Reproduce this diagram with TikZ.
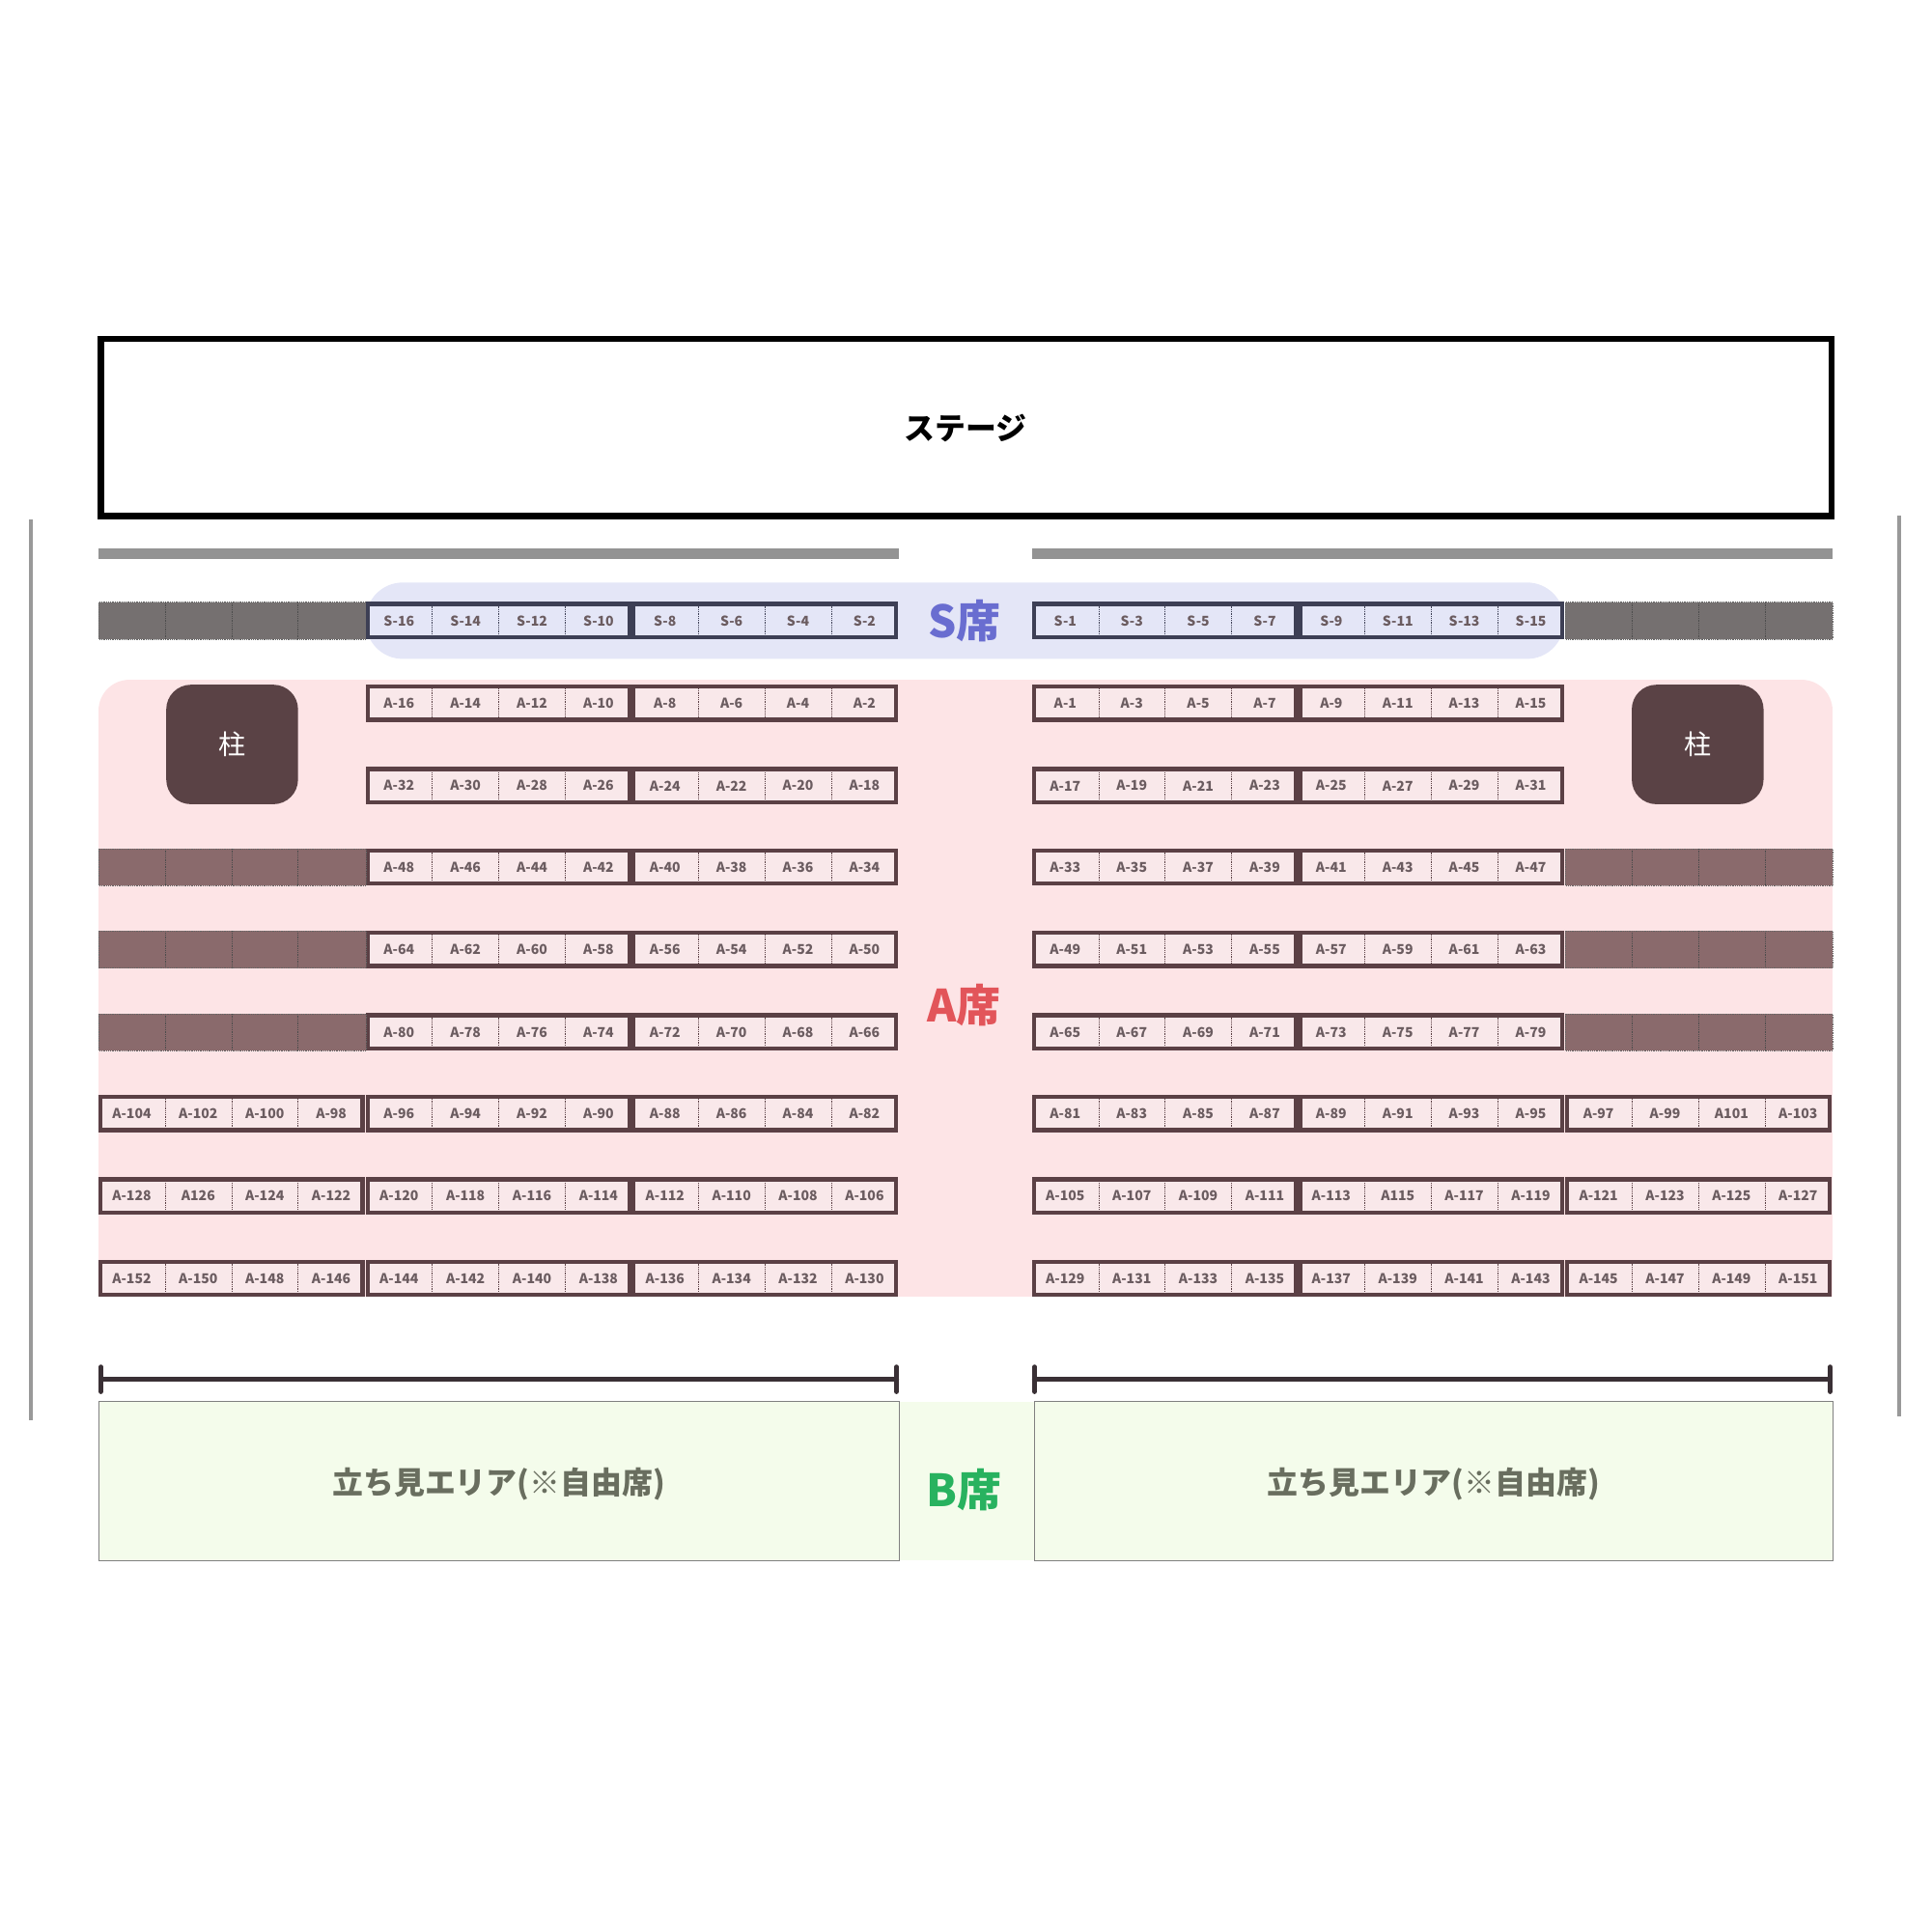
\documentclass[tikz,border=0pt]{standalone}
\usepackage{fontspec}
\setmainfont{Noto Sans CJK JP}
\begin{document}
\begin{tikzpicture}[x=1pt,y=-1pt]
\definecolor{sbrd}{HTML}{3D3F55}\definecolor{sfill}{HTML}{E4E6F7}
\definecolor{abrd}{HTML}{5B4045}\definecolor{afill}{HTML}{F9E8EA}
\definecolor{sgray}{HTML}{757070}\definecolor{agray}{HTML}{8A6A6C}
\definecolor{pinkbg}{HTML}{FDE4E6}\definecolor{greenbg}{HTML}{F4FCEB}
\definecolor{pillar}{HTML}{5A4245}\definecolor{lbl}{HTML}{5A4A4E}
\definecolor{brk}{HTML}{3A3035}
\tikzset{seatlbl/.style={font=\fontsize{11}{12}\selectfont\bfseries, text=lbl!90},
  big/.style={font=\fontsize{36}{40}\selectfont\bfseries}}
\useasboundingbox (0,0) rectangle (1568,1568);
% stage
\draw[line width=5] (82,275) rectangle (1487,419);
\node[font=\fontsize{25}{28}\selectfont\bfseries] (stage) at (784,348) {ステージ};
% side lines
\draw[gray!80,line width=3] (25,422) -- (25,1153);
\draw[gray!80,line width=3] (1542,419) -- (1542,1150);
\fill[gray!85] (80,445) rectangle (730,454);
\fill[gray!85] (838,445) rectangle (1488,454);
% backgrounds
\fill[sfill,rounded corners=30] (297,473) rectangle (1270,535);
\fill[pinkbg,rounded corners=25] (80,552) rectangle (1488,1080);
\fill[pinkbg] (80,1000) rectangle (1488,1053);
\fill[white] (80,1053) rectangle (1488,1090);
\fill[greenbg] (80,1138) rectangle (1488,1267);
\draw[gray] (80,1138) rectangle (730,1267);
\draw[gray] (840,1138) rectangle (1488,1267);
% labels
\node[big,text={rgb,255:red,105;green,109;blue,208}] (slab) at (783,504) {S席};
\node[big,text={rgb,255:red,226;green,85;blue,90}] (alab) at (783,816) {A席};
\node[big,text={rgb,255:red,40;green,178;blue,95}] (blab) at (783,1210) {B席};
\node[font=\fontsize{25}{28}\selectfont\bfseries,text={rgb,255:red,105;green,110;blue,95}] (f1) at (405,1205) {立ち見エリア(※自由席)};
\node[font=\fontsize{25}{28}\selectfont\bfseries,text={rgb,255:red,105;green,110;blue,95}] (f2) at (1164,1205) {立ち見エリア(※自由席)};
% brackets
\draw[line width=4,brk,line cap=round] (82,1120) -- (728,1120) (82,1110) -- (82,1130) (728,1110) -- (728,1130);
\draw[line width=4,brk,line cap=round] (840,1120) -- (1486,1120) (840,1110) -- (840,1130) (1486,1110) -- (1486,1130);
% pillars
\node[fill=pillar,rounded corners=20,minimum width=107,minimum height=97,text=white,font=\fontsize{22}{24}\selectfont] (p1) at (188.5,604.5) {柱};
\node[fill=pillar,rounded corners=20,minimum width=107,minimum height=97,text=white,font=\fontsize{22}{24}\selectfont] (p2) at (1378.5,604.5) {柱};
% seat block macro
\newcommand\blk[5]{% x, y, border, fill, labels
  \fill[#4] (#1,#2-15) rectangle ++(216,30);
  \foreach \l [count=\i] in {#5} {
    \node[seatlbl] at (#1+54*\i-27,#2) {\l};
    \ifnum\i<4 \draw[densely dotted,#3] (#1+54*\i,#2-12) -- ++(0,24);\fi
  }
  \draw[#3,line width=3.5] (#1+1.5,#2-13.5) rectangle ++(213,27);
}
\newcommand\gry[3]{% x, y, colour
  \fill[#3] (#1,#2-15) rectangle ++(217,30);
  \foreach \i in {1,2,3} \draw[densely dotted,black!70] (#1+54*\i,#2-15) -- ++(0,30);
  \draw[densely dotted,black!60] (#1,#2-15) rectangle ++(217,30);
}
% S row
\gry{80}{504}{sgray}\gry{1271}{504}{sgray}
\blk{297}{504}{sbrd}{sfill}{S-16,S-14,S-12,S-10}
\blk{513}{504}{sbrd}{sfill}{S-8,S-6,S-4,S-2}
\blk{838}{504}{sbrd}{sfill}{S-1,S-3,S-5,S-7}
\blk{1054}{504}{sbrd}{sfill}{S-9,S-11,S-13,S-15}
% A rows 1-5
\foreach \k/\y in {1/571,2/638,3/704,4/771,5/838}{
  \pgfmathtruncatemacro\a{16*\k}\pgfmathtruncatemacro\b{16*\k-2}\pgfmathtruncatemacro\c{16*\k-4}\pgfmathtruncatemacro\d{16*\k-6}
  \pgfmathtruncatemacro\e{16*\k-8}\pgfmathtruncatemacro\f{16*\k-10}\pgfmathtruncatemacro\g{16*\k-12}\pgfmathtruncatemacro\h{16*\k-14}
  \blk{297}{\y}{abrd}{afill}{A-\a,A-\b,A-\c,A-\d}
  \blk{513}{\y}{abrd}{afill}{A-\e,A-\f,A-\g,A-\h}
  \pgfmathtruncatemacro\a{16*\k-15}\pgfmathtruncatemacro\b{16*\k-13}\pgfmathtruncatemacro\c{16*\k-11}\pgfmathtruncatemacro\d{16*\k-9}
  \pgfmathtruncatemacro\e{16*\k-7}\pgfmathtruncatemacro\f{16*\k-5}\pgfmathtruncatemacro\g{16*\k-3}\pgfmathtruncatemacro\h{16*\k-1}
  \blk{838}{\y}{abrd}{afill}{A-\a,A-\b,A-\c,A-\d}
  \blk{1054}{\y}{abrd}{afill}{A-\e,A-\f,A-\g,A-\h}
}
\foreach \y in {704,771,838}{\gry{80}{\y}{agray}\gry{1271}{\y}{agray}}
% row 6
\blk{80}{904}{abrd}{afill}{A-104,A-102,A-100,A-98}
\blk{297}{904}{abrd}{afill}{A-96,A-94,A-92,A-90}
\blk{513}{904}{abrd}{afill}{A-88,A-86,A-84,A-82}
\blk{838}{904}{abrd}{afill}{A-81,A-83,A-85,A-87}
\blk{1054}{904}{abrd}{afill}{A-89,A-91,A-93,A-95}
\blk{1271}{904}{abrd}{afill}{A-97,A-99,A101,A-103}
% row 7
\blk{80}{971}{abrd}{afill}{A-128,A126,A-124,A-122}
\blk{297}{971}{abrd}{afill}{A-120,A-118,A-116,A-114}
\blk{513}{971}{abrd}{afill}{A-112,A-110,A-108,A-106}
\blk{838}{971}{abrd}{afill}{A-105,A-107,A-109,A-111}
\blk{1054}{971}{abrd}{afill}{A-113,A115,A-117,A-119}
\blk{1271}{971}{abrd}{afill}{A-121,A-123,A-125,A-127}
% row 8
\blk{80}{1038}{abrd}{afill}{A-152,A-150,A-148,A-146}
\blk{297}{1038}{abrd}{afill}{A-144,A-142,A-140,A-138}
\blk{513}{1038}{abrd}{afill}{A-136,A-134,A-132,A-130}
\blk{838}{1038}{abrd}{afill}{A-129,A-131,A-133,A-135}
\blk{1054}{1038}{abrd}{afill}{A-137,A-139,A-141,A-143}
\blk{1271}{1038}{abrd}{afill}{A-145,A-147,A-149,A-151}
\end{tikzpicture}
\end{document}
